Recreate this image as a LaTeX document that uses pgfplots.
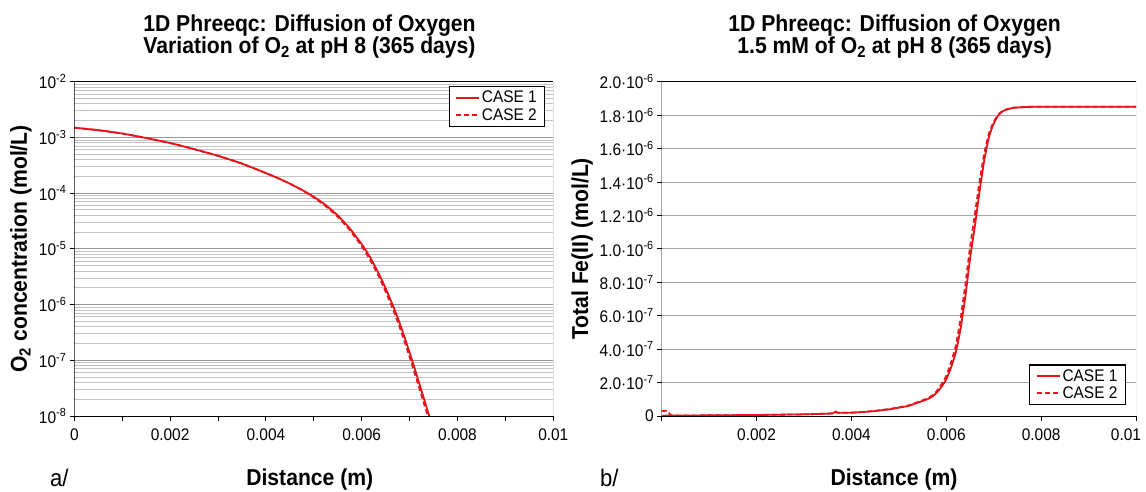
\documentclass[border=0pt]{standalone}
\usepackage{pgfplots}
\pgfplotsset{compat=1.18}
\usepackage{fontspec}
\setmainfont{Liberation Sans}[FakeStretch=0.92]

\definecolor{curvered}{RGB}{228,22,28}
\definecolor{majorgrid}{RGB}{150,150,150}
\definecolor{minorgrid}{RGB}{196,196,196}
\definecolor{framegray}{RGB}{165,165,165}

\newcommand{\ticksize}{\fontsize{16.8}{19}\selectfont}
\newcommand{\labelsize}{\bfseries\fontsize{23}{26}\selectfont}

\pgfplotsset{
  panel/.style={
    scale only axis,
    axis line style={draw=none},
    tick align=outside,
    xtick pos=bottom, ytick pos=left,
    tick style={black, line width=0.9pt},
    major tick length=4.5pt,
    minor tick length=4.5pt,
    xmin=0, xmax=0.01,
    scaled x ticks=false, scaled y ticks=false,
    ticklabel style={font=\ticksize},
    xticklabel style={yshift=-5pt},
    legend cell align=left,
    legend style={font=\ticksize, draw=black, line width=1.1pt,
      inner xsep=6pt, inner ysep=2.5pt, row sep=0pt},
    legend image code/.code={\draw[##1] (0pt,0pt) -- (23pt,0pt);},
  },
  case1/.style={curvered, line width=1.8pt, solid, smooth, tension=0.3},
  case2/.style={curvered, line width=1.8pt, dash pattern=on 5pt off 3pt, smooth, tension=0.3},
}

\begin{document}
\begin{tikzpicture}
\useasboundingbox (0pt,0pt) rectangle (1146pt,-491pt);

% ---------------- a/ : dissolved oxygen profile (log scale)
\begin{axis}[panel,
  at={(74.3pt,-81.7pt)}, anchor=north west,
  width=479pt, height=334.3pt,
  ymode=log, ymin=1e-8, ymax=1e-2,
  ytick={1e-8,1e-7,1e-6,1e-5,1e-4,1e-3,1e-2},
  yticklabels={10\textsuperscript{-8},10\textsuperscript{-7},10\textsuperscript{-6},10\textsuperscript{-5},10\textsuperscript{-4},10\textsuperscript{-3},10\textsuperscript{-2}},
  xtick={0,0.002,0.004,0.006,0.008,0.01},
  xticklabels={0,0.002,0.004,0.006,0.008,0.01},
  minor xtick={0.001,0.003,0.005,0.007,0.009},
  ymajorgrids, yminorgrids,
  major grid style={majorgrid, line width=0.9pt},
  minor grid style={minorgrid, line width=0.9pt},
  minor y tick style={draw=none},
  legend style={at={(0.9835,0.987)}, anchor=north east},
]
\addplot[case1] coordinates {
  (0.0000,1.496e-3) (0.0005,1.349e-3) (0.0010,1.175e-3) (0.0015,9.77e-4)
  (0.0020,7.94e-4) (0.0025,6.17e-4) (0.0030,4.68e-4) (0.0035,3.39e-4)
  (0.0040,2.29e-4) (0.00425,1.862e-4) (0.0045,1.479e-4) (0.00475,1.148e-4)
  (0.0050,8.61e-5) (0.00525,6.10e-5) (0.0055,3.98e-5) (0.00575,2.34e-5)
  (0.0060,1.216e-5) (0.0061,9.02e-6) (0.0062,6.46e-6) (0.0063,4.47e-6)
  (0.0064,3.02e-6) (0.0065,1.95e-6) (0.0066,1.23e-6) (0.0067,7.59e-7)
  (0.0068,4.47e-7) (0.0069,2.51e-7) (0.0070,1.38e-7) (0.0071,7.41e-8)
  (0.0072,3.89e-8) (0.0073,2.04e-8) (0.0074,1.07e-8) (0.0075,5.6e-9)
};
\addlegendentry{CASE 1}
\addplot[case2] coordinates {
  (0.0000,1.496e-3) (0.0005,1.349e-3) (0.0010,1.175e-3) (0.0015,9.77e-4)
  (0.0020,7.94e-4) (0.0025,6.17e-4) (0.0030,4.68e-4) (0.0035,3.39e-4)
  (0.0040,2.29e-4) (0.00425,1.862e-4) (0.0045,1.479e-4) (0.00474,1.148e-4)
  (0.00498,8.61e-5) (0.00522,6.10e-5) (0.00547,3.98e-5) (0.00572,2.34e-5)
  (0.00597,1.216e-5) (0.00607,9.02e-6) (0.00617,6.46e-6) (0.00627,4.47e-6)
  (0.00637,3.02e-6) (0.00647,1.95e-6) (0.00657,1.23e-6) (0.00667,7.59e-7)
  (0.00677,4.47e-7) (0.00687,2.51e-7) (0.00697,1.38e-7) (0.00707,7.41e-8)
  (0.00717,3.89e-8) (0.00727,2.04e-8) (0.00737,1.07e-8) (0.00747,5.6e-9)
};
\addlegendentry{CASE 2}
\draw[black, line width=1pt] (rel axis cs:0,1) -- (rel axis cs:0,0) -- (rel axis cs:1,0);
\draw[black, line width=1pt] (rel axis cs:0,1) -- (rel axis cs:1,1);
\draw[framegray, line width=1pt] (rel axis cs:1,0) -- (rel axis cs:1,1);
\end{axis}

% ---------------- b/ : total Fe(II) profile
\begin{axis}[panel,
  at={(661.7pt,-81.7pt)}, anchor=north west,
  width=474.3pt, height=334.3pt,
  ymin=0, ymax=2e-6,
  ytick={0,2e-7,4e-7,6e-7,8e-7,1e-6,1.2e-6,1.4e-6,1.6e-6,1.8e-6,2e-6},
  yticklabels={0,
    2.0·10\textsuperscript{-7},4.0·10\textsuperscript{-7},6.0·10\textsuperscript{-7},8.0·10\textsuperscript{-7},
    1.0·10\textsuperscript{-6},1.2·10\textsuperscript{-6},1.4·10\textsuperscript{-6},1.6·10\textsuperscript{-6},
    1.8·10\textsuperscript{-6},2.0·10\textsuperscript{-6}},
  xtick={0,0.002,0.004,0.006,0.008,0.01},
  xticklabels={,0.002,0.004,0.006,0.008,\hspace*{-20pt}0.01},
  ymajorgrids,
  major grid style={framegray, line width=0.9pt},
  legend style={at={(0.979,0.033)}, anchor=south east},
]
\addplot[case1] coordinates {
  (0.0000,2e-9) (0.0005,3e-9) (0.0010,4e-9) (0.0015,5e-9) (0.0020,6e-9)
  (0.0025,8e-9) (0.0030,1.0e-8) (0.0035,1.4e-8) (0.0036,1.6e-8)
  (0.00367,2.6e-8) (0.0037,2.0e-8) (0.0040,2.0e-8) (0.0043,2.5e-8)
  (0.0045,3.0e-8) (0.0048,4.0e-8) (0.0050,5.0e-8) (0.0052,6.0e-8)
  (0.0054,8.0e-8) (0.0055,9.0e-8) (0.0056,1.0e-7) (0.0057,1.15e-7)
  (0.0058,1.4e-7) (0.0059,1.75e-7) (0.0060,2.2e-7) (0.0061,2.9e-7)
  (0.0062,3.8e-7) (0.0063,5.2e-7) (0.0064,7.1e-7) (0.0065,9.4e-7)
  (0.0066,1.13e-6) (0.0067,1.34e-6) (0.0068,1.53e-6) (0.0069,1.67e-6)
  (0.0070,1.75e-6) (0.0071,1.80e-6) (0.0072,1.825e-6) (0.0074,1.843e-6)
  (0.0077,1.849e-6) (0.0080,1.85e-6) (0.0100,1.85e-6)
};
\addlegendentry{CASE 1}
\addplot[case2] coordinates {
  (0.0000,3e-8) (0.00012,3e-8) (0.0002,4e-9) (0.0005,3e-9) (0.0010,4e-9)
  (0.0015,5e-9) (0.0020,6e-9) (0.0025,8e-9) (0.0030,1.0e-8) (0.0035,1.4e-8)
  (0.0036,1.6e-8) (0.00367,2.6e-8) (0.0037,2.0e-8) (0.0040,2.0e-8)
  (0.0043,2.6e-8) (0.0045,3.1e-8) (0.0048,4.2e-8) (0.0050,5.2e-8)
  (0.0052,6.3e-8) (0.0054,8.4e-8) (0.0055,9.4e-8) (0.0056,1.05e-7)
  (0.0057,1.22e-7) (0.0058,1.5e-7) (0.0059,1.9e-7) (0.0060,2.4e-7)
  (0.0061,3.2e-7) (0.0062,4.2e-7) (0.0063,5.8e-7) (0.0064,7.8e-7)
  (0.0065,1.01e-6) (0.0066,1.2e-6) (0.0067,1.4e-6) (0.0068,1.57e-6)
  (0.0069,1.69e-6) (0.0070,1.76e-6) (0.0071,1.805e-6) (0.0072,1.828e-6)
  (0.0074,1.844e-6) (0.0077,1.849e-6) (0.0080,1.85e-6) (0.0100,1.85e-6)
};
\addlegendentry{CASE 2}
\draw[black, line width=1pt] (rel axis cs:0,1) -- (rel axis cs:0,0) -- (rel axis cs:1,0);
\draw[black, line width=1pt] (rel axis cs:0,1) -- (rel axis cs:1,1);
\draw[framegray, line width=1pt] (rel axis cs:1,0) -- (rel axis cs:1,1);
\end{axis}

% ---------------- titles and labels
\begin{scope}[every node/.style={inner sep=0pt}]
\node[anchor=base, font=\labelsize] at (309.5pt,-31.7pt) {1D Phreeqc: Diffusion of Oxygen};
\node[anchor=base, font=\labelsize] at (309.5pt,-53.5pt) {Variation of O\textsubscript{2} at pH 8 (365 days)};
\node[anchor=base, font=\labelsize] at (894.6pt,-31.7pt) {1D Phreeqc: Diffusion of Oxygen};
\node[anchor=base, font=\labelsize] at (894.6pt,-53.5pt) {1.5 mM of O\textsubscript{2} at pH 8 (365 days)};

\node[anchor=base, font=\labelsize] at (309.8pt,-485pt) {Distance (m)};
\node[anchor=base, font=\labelsize] at (894pt,-485pt) {Distance (m)};

\node[anchor=base, rotate=90, font=\labelsize] at (26.8pt,-248.9pt) {O\textsubscript{2} concentration (mol/L)};
\node[anchor=base, rotate=90, font=\labelsize] at (588pt,-248.9pt) {Total Fe(II) (mol/L)};

\node[anchor=base west, font=\fontsize{24}{28}\selectfont] at (50pt,-486pt) {a/};
\node[anchor=base west, font=\fontsize{24}{28}\selectfont] at (600pt,-486pt) {b/};
\end{scope}
\end{tikzpicture}
\end{document}
